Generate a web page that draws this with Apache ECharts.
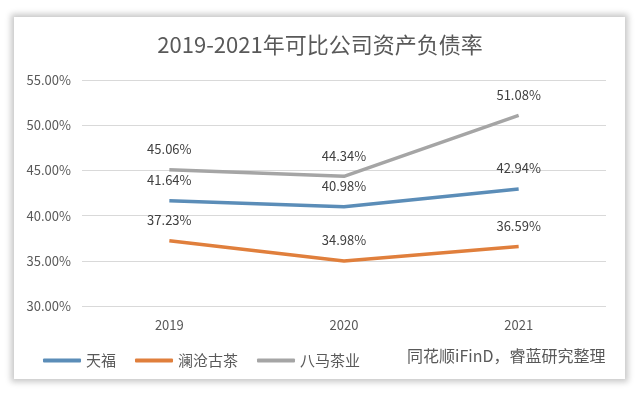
<!DOCTYPE html>
<html>
<head>
<meta charset="utf-8">
<script src="https://cdn.jsdelivr.net/npm/echarts@6/dist/echarts.min.js"></script>
<style>
  html, body { margin: 0; padding: 0; background: #fff; }
  .card {
    position: absolute;
    left: 14px; top: 17px; width: 611px; height: 362px;
    background: #fff;
    box-shadow: 0 0 6px 3px rgba(0, 0, 0, 0.22);
  }
  #chart { position: absolute; left: 0; top: 0; width: 640px; height: 396px; }
</style>
</head>
<body>
<div class="card"></div>
<div id="chart"></div>
<script>
const categories = ['2019', '2020', '2021'];
const tianfu = [41.64, 40.98, 42.94];
const lancang = [37.23, 34.98, 36.59];
const bama = [45.06, 44.34, 51.08];
const seriesNames = ['天福', '澜沧古茶', '八马茶业'];

const chart = echarts.init(document.getElementById('chart'));
const font = '"Noto Sans CJK SC", "Noto Sans", sans-serif';

function lineSeries(name, data, color) {
  return {
    name,
    type: 'line',
    data,
    symbol: 'circle',
    symbolSize: 0,
    showSymbol: true,
    lineStyle: { color, width: 3.5 },
    itemStyle: { color },
    label: {
      show: true,
      position: 'top',
      distance: 14,
      color: '#404040',
      fontSize: 13,
      fontFamily: font,
      formatter: (p) => p.value.toFixed(2) + '%',
    },
  };
}

const option = {
  animation: false,
  title: {
    text: '2019-2021年可比公司资产负债率',
    left: 'center',
    top: 29,
    textStyle: { color: '#595959', fontSize: 22, fontWeight: 'normal', fontFamily: font },
  },
  grid: { left: 82, right: 34, top: 80, bottom: 90 },
  legend: {
    left: 38,
    top: 348,
    itemWidth: 38,
    itemHeight: 4,
    itemGap: 19,
    icon: 'roundRect',
    data: seriesNames,
    textStyle: { color: '#595959', fontSize: 15, fontFamily: font },
  },
  graphic: [
    {
      type: 'text',
      left: 407,
      top: 348,
      style: { text: '同花顺iFinD，睿蓝研究整理', fill: '#595959', fontSize: 16, fontFamily: font },
    },
  ],
  xAxis: {
    type: 'category',
    data: categories,
    axisLine: { show: false },
    axisTick: { show: false },
    axisLabel: { color: '#595959', fontSize: 13, fontFamily: font, margin: 13 },
  },
  yAxis: {
    type: 'value',
    min: 30,
    max: 55,
    interval: 5,
    axisLine: { show: false },
    axisTick: { show: false },
    splitLine: { lineStyle: { color: '#d9d9d9', width: 1 } },
    axisLabel: {
      color: '#595959',
      fontSize: 13,
      fontFamily: font,
      margin: 11,
      formatter: (v) => v.toFixed(2) + '%',
    },
  },
  series: [
    lineSeries(seriesNames[0], tianfu, '#5b8db8'),
    lineSeries(seriesNames[1], lancang, '#e07f3c'),
    lineSeries(seriesNames[2], bama, '#a5a5a5'),
  ],
};

chart.setOption(option);
</script>
</body>
</html>
